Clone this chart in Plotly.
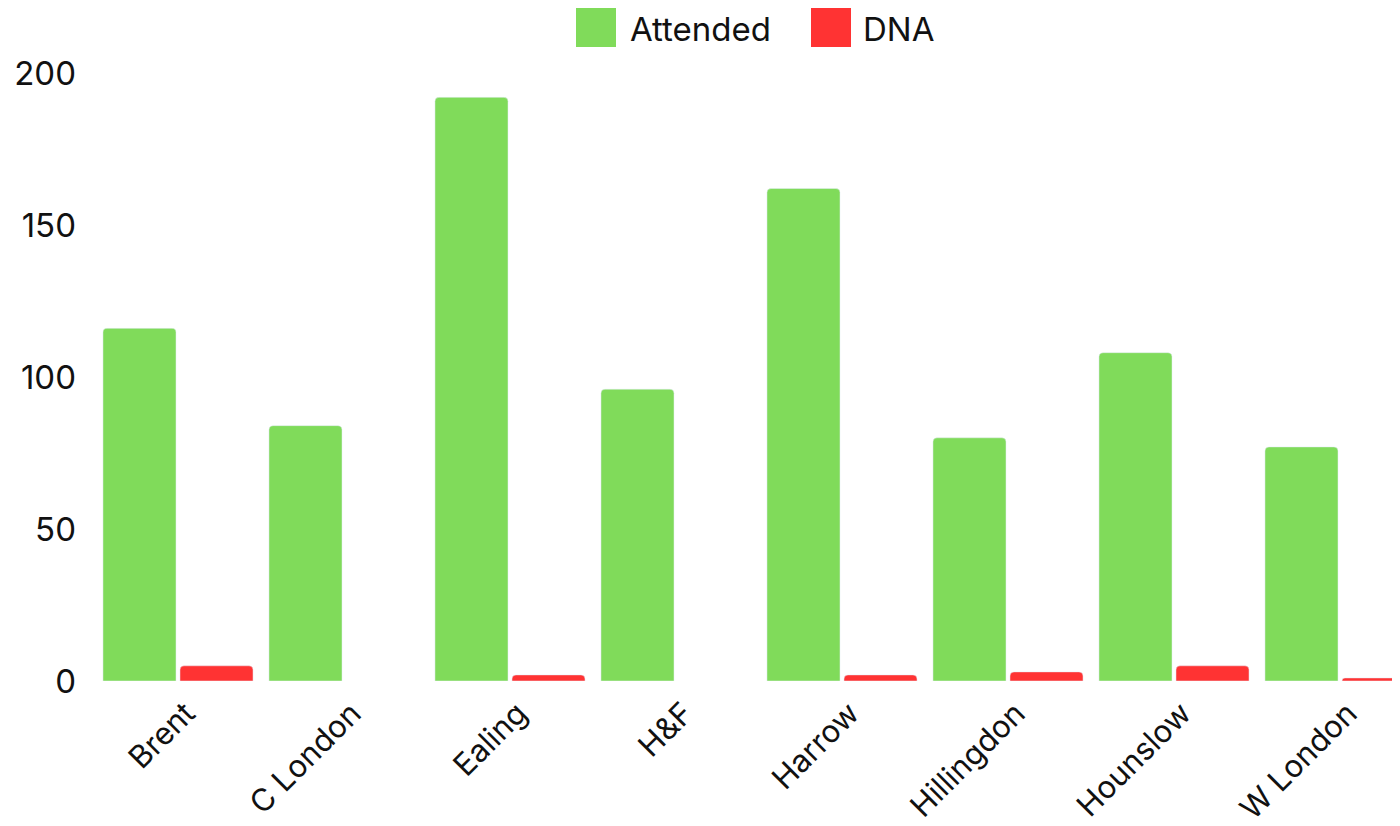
import plotly.graph_objects as go

categories = ["Brent", "C London", "Ealing", "H&F", "Harrow", "Hillingdon", "Hounslow", "W London"]
attended = [116, 84, 192, 96, 162, 80, 108, 77]
dna = [5, 0, 2, 0, 2, 3, 5, 1]
y_ticks = [0, 50, 100, 150, 200]

GREEN = "#80DB5A"
RED = "#FF3333"
FONT = "Inter, sans-serif"

# the page body adds an 8px offset; compensate in figure coordinates
OFF = 8
L, T = 95 - OFF, 73 - OFF
PLOT_BOTTOM = 681 - OFF
W, H = 1400, 826
PW = W - L
PH = PLOT_BOTTOM - T


def px(xpage):
    return (xpage - OFF - L) / PW


def py(ypage):
    return (PLOT_BOTTOM - (ypage - OFF)) / PH


fig = go.Figure()
fig.add_trace(go.Bar(x=categories, y=[v if v else None for v in attended], name="Attended",
                     marker_color=GREEN, width=0.44, offset=-0.452, showlegend=False))
fig.add_trace(go.Bar(x=categories, y=[v if v else None for v in dna], name="DNA",
                     marker_color=RED, width=0.44, offset=0.012, showlegend=False))

# manual legend (large swatches)
fig.add_shape(type="rect", xref="paper", yref="paper", x0=px(576), x1=px(616),
              y0=py(47), y1=py(7), fillcolor=GREEN, line_width=0, layer="above")
fig.add_shape(type="rect", xref="paper", yref="paper", x0=px(811), x1=px(851),
              y0=py(47), y1=py(7), fillcolor=RED, line_width=0, layer="above")
fig.add_annotation(xref="paper", yref="paper", x=px(628), y=py(29), text="Attended",
                   showarrow=False, xanchor="left", yanchor="middle",
                   font=dict(family=FONT, size=33, color="#111"))
fig.add_annotation(xref="paper", yref="paper", x=px(861), y=py(29), text="DNA",
                   showarrow=False, xanchor="left", yanchor="middle",
                   font=dict(family=FONT, size=33, color="#111"))

fig.update_layout(
    width=W, height=H,
    margin=dict(l=L, r=0, t=T, b=H - PLOT_BOTTOM, autoexpand=False),
    barmode="overlay",
    barcornerradius=4,
    plot_bgcolor="white", paper_bgcolor="white",
    font=dict(family=FONT, size=33, color="#111"),
    showlegend=False,
)
x_right = (W + OFF - 178) / 166.0
fig.update_xaxes(range=[-0.5, x_right], tickangle=-45, showgrid=False, zeroline=False,
                 showline=False, ticks="", tickfont=dict(size=31), automargin=False,
                 ticklabelstandoff=7, ticklabelshift=8)
fig.update_yaxes(range=[0, 200], tickvals=y_ticks, showgrid=False, zeroline=False,
                 showline=False, ticks="", ticklabelstandoff=18, tickfont=dict(size=33),
                 automargin=False)

fig.write_html("out.html")
